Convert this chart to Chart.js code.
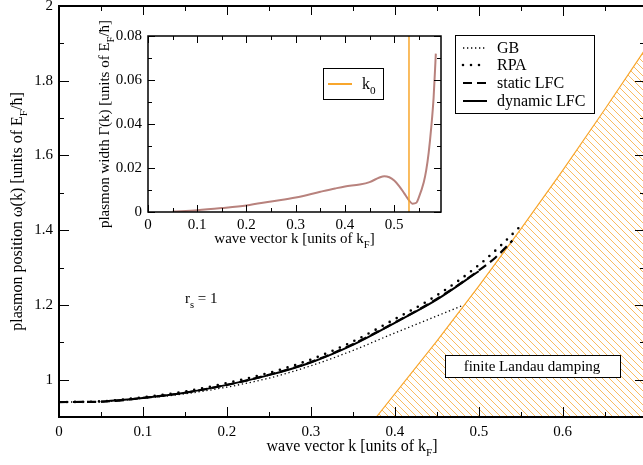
<!DOCTYPE html>
<html>
<head>
<meta charset="utf-8">
<script src="https://cdn.jsdelivr.net/npm/chart.js@4.4.0/dist/chart.umd.min.js"></script>
<style>
  html, body { margin: 0; padding: 0; background: #fff; overflow: hidden; }
  #wrap { position: relative; width: 643px; height: 465px; overflow: hidden; }
  #main { position: absolute; left: 0; top: 0; }
  #inset { position: absolute; left: 88px; top: 15px; background: #fff; }
</style>
</head>
<body>
<div id="wrap">
  <canvas id="main" width="660" height="465"></canvas>
  <canvas id="inset" width="362" height="240"></canvas>
</div>
<script>
// plasmon dispersion, main plot (k in units of k_F, omega in units of E_F/hbar)
const gbK = [0, 0.05, 0.1, 0.15, 0.2, 0.25, 0.3, 0.35, 0.4, 0.43, 0.479];
const gbW = [0.94, 0.941, 0.950, 0.962, 0.980, 1.004, 1.037, 1.078, 1.125, 1.152, 1.197];

const rpaK = [0, 0.05, 0.1, 0.15, 0.2, 0.25, 0.3, 0.35, 0.4, 0.438, 0.474, 0.505, 0.529, 0.551];
const rpaW = [0.94, 0.942, 0.953, 0.968, 0.991, 1.018, 1.054, 1.102, 1.162, 1.209, 1.262, 1.316, 1.365, 1.414];

const staticK = [0, 0.05, 0.1, 0.15, 0.2, 0.25, 0.3, 0.35, 0.4, 0.45, 0.5, 0.52, 0.54];
const staticW = [0.94, 0.941, 0.951, 0.965, 0.986, 1.013, 1.047, 1.095, 1.153, 1.216, 1.292, 1.327, 1.372];

const dynK = [0.05, 0.1, 0.15, 0.2, 0.25, 0.3, 0.35, 0.4, 0.45, 0.5];
const dynW = [0.941, 0.951, 0.965, 0.986, 1.012, 1.046, 1.093, 1.152, 1.214, 1.29];

// edge of the particle-hole continuum (finite Landau damping)
const landauK = [0.378, 0.45, 0.5, 0.55, 0.6, 0.65, 0.7, 0.75];
const landauW = [0.9, 1.103, 1.25, 1.403, 1.56, 1.723, 1.89, 2.06];

const mainXTicks = [0, 0.1, 0.2, 0.3, 0.4, 0.5, 0.6];
const mainYTicks = [1, 1.2, 1.4, 1.6, 1.8, 2];

// inset: plasmon width
const gammaK = [0.05, 0.1, 0.15, 0.2, 0.25, 0.3, 0.35, 0.38, 0.4, 0.43, 0.45, 0.47, 0.48, 0.49, 0.5,
                0.51, 0.52, 0.53, 0.537, 0.545, 0.55, 0.56, 0.565, 0.57, 0.575, 0.58, 0.5845];
const gammaW = [0.0002, 0.0008, 0.0018, 0.003, 0.0048, 0.0066, 0.0092, 0.0107, 0.0116, 0.0125, 0.0136, 0.0157, 0.0163, 0.0158, 0.0143,
                0.0118, 0.0086, 0.0053, 0.0038, 0.0042, 0.0066, 0.0135, 0.019, 0.027, 0.038, 0.052, 0.072];
const k0 = 0.53;
const insetXTicks = [0, 0.1, 0.2, 0.3, 0.4, 0.5];
const insetYTicks = [0, 0.02, 0.04, 0.06, 0.08];

const SERIF = '"Liberation Serif", "Times New Roman", serif';
const ORANGE = '#f8a62c';
const pts = (xs, ys) => xs.map((x, i) => ({ x: x, y: ys[i] }));

// text with subscripts: parts = [[text, isSub], ...], y = baseline
function richText(ctx, parts, x, y, size, align) {
  const f = s => s + 'px ' + SERIF;
  let w = 0;
  parts.forEach(([t, sub]) => { ctx.font = f(sub ? size * 0.7 : size); w += ctx.measureText(t).width; });
  let cx = align === 'center' ? x - w / 2 : (align === 'right' ? x - w : x);
  ctx.textAlign = 'left';
  ctx.textBaseline = 'alphabetic';
  ctx.fillStyle = '#000';
  parts.forEach(([t, sub]) => {
    ctx.font = f(sub ? size * 0.7 : size);
    ctx.fillText(t, cx, y + (sub ? size * 0.3 : 0));
    cx += ctx.measureText(t).width;
  });
}

// inward ticks on all four sides plus the frame
function drawFrame(chart, s) {
  const { ctx, chartArea: a, scales: { x, y } } = chart;
  ctx.save();
  ctx.strokeStyle = '#000';
  ctx.lineWidth = 1;
  ctx.beginPath();
  const vt = (v, len) => {
    const p = Math.round(x.getPixelForValue(v)) + 0.5;
    ctx.moveTo(p, a.bottom); ctx.lineTo(p, a.bottom - len);
    ctx.moveTo(p, a.top); ctx.lineTo(p, a.top + len);
  };
  const ht = (v, len) => {
    const p = Math.round(y.getPixelForValue(v)) + 0.5;
    ctx.moveTo(a.left, p); ctx.lineTo(a.left + len, p);
    ctx.moveTo(a.right, p); ctx.lineTo(a.right - len, p);
  };
  for (let v = x.min; v <= x.max + 1e-9; v += s.xMinor) vt(v, s.minor);
  for (let v = y.min; v <= y.max + 1e-9; v += s.yMinor) ht(v, s.minor);
  s.xMajor.forEach(v => vt(v, s.major));
  s.yMajor.forEach(v => ht(v, s.major));
  ctx.stroke();
  ctx.lineWidth = s.border;
  ctx.strokeRect(a.left, a.top, a.right - a.left, a.bottom - a.top);
  ctx.restore();
}

function fixBox(w, h) {
  return s => {
    if (w !== null) s.width = w;
    if (h !== null) s.height = h;
    s.paddingTop = 0; s.paddingBottom = 0; s.paddingLeft = 0; s.paddingRight = 0;
  };
}

// hatch pattern for the Landau damping region
const mainCanvas = document.getElementById('main');
const mctx = mainCanvas.getContext('2d');
const tile = document.createElement('canvas');
tile.width = 7; tile.height = 7;
const tg = tile.getContext('2d');
tg.strokeStyle = 'rgba(248,166,44,0.75)';
tg.lineWidth = 1;
tg.beginPath();
tg.moveTo(-1, -1); tg.lineTo(8, 8);
tg.moveTo(-1, 6); tg.lineTo(1, 8);
tg.moveTo(6, -1); tg.lineTo(8, 1);
tg.stroke();
const hatch = mctx.createPattern(tile, 'repeat');

const mainStyles = {
  gb: { borderColor: '#000', borderWidth: 1.3, borderDash: [1.3, 2.7] },
  rpa: { borderColor: '#000', borderWidth: 2.6, borderDash: [0, 8], borderCapStyle: 'round' },
  stat: { borderColor: '#000', borderWidth: 2.2, borderDash: [9, 5] },
  dyn: { borderColor: '#000', borderWidth: 2 }
};

const mainOverlay = {
  id: 'mainOverlay',
  afterDatasetsDraw(chart) {
    const ctx = chart.ctx;
    drawFrame(chart, { xMajor: mainXTicks, yMajor: mainYTicks, xMinor: 0.05, yMinor: 0.1, major: 10, minor: 5, border: 2 });
    ctx.save();
    // legend
    ctx.fillStyle = '#fff';
    ctx.fillRect(455, 35, 139, 78);
    ctx.strokeStyle = '#000';
    ctx.lineWidth = 1;
    ctx.strokeRect(455.5, 35.5, 139, 78);
    const rows = [['GB', mainStyles.gb, 48], ['RPA', mainStyles.rpa, 65], ['static LFC', mainStyles.stat, 83], ['dynamic LFC', mainStyles.dyn, 101]];
    rows.forEach(([label, st, ry]) => {
      ctx.save();
      ctx.strokeStyle = st.borderColor;
      ctx.lineWidth = st.borderWidth;
      ctx.setLineDash(st.borderDash || []);
      ctx.lineCap = st.borderCapStyle || 'butt';
      ctx.beginPath();
      ctx.moveTo(463, ry); ctx.lineTo(487, ry);
      ctx.stroke();
      ctx.restore();
      richText(ctx, [[label, false]], 497, ry + 5, 16, 'left');
    });
    // Landau damping label
    ctx.fillStyle = '#fff';
    ctx.fillRect(445, 355, 175, 22);
    ctx.strokeStyle = '#000';
    ctx.lineWidth = 1;
    ctx.strokeRect(445.5, 355.5, 175, 22);
    richText(ctx, [['finite Landau damping', false]], 532, 371, 15, 'center');
    // r_s = 1
    richText(ctx, [['r', false], ['s', true], [' = 1', false]], 185, 303, 15, 'left');
    // axis titles
    const a = chart.chartArea;
    richText(ctx, [['wave vector k [units of k', false], ['F', true], [']', false]], (a.left + a.right) / 2, 451, 16, 'center');
    ctx.translate(22, (a.top + a.bottom) / 2);
    ctx.rotate(-Math.PI / 2);
    richText(ctx, [['plasmon position \u03C9(k) [units of E', false], ['F', true], ['/\u0127]', false]], 0, 0, 16, 'center');
    ctx.restore();
  }
};

new Chart(mainCanvas, {
  type: 'line',
  data: {
    datasets: [
      Object.assign({ label: 'dynamic LFC', data: pts(dynK, dynW) }, mainStyles.dyn),
      Object.assign({ label: 'static LFC', data: pts(staticK, staticW) }, mainStyles.stat),
      Object.assign({ label: 'RPA', data: pts(rpaK, rpaW) }, mainStyles.rpa),
      Object.assign({ label: 'GB', data: pts(gbK, gbW) }, mainStyles.gb),
      {
        label: 'finite Landau damping',
        data: pts(landauK, landauW),
        borderColor: ORANGE,
        borderWidth: 1.2,
        backgroundColor: hatch,
        fill: 'start',
        cubicInterpolationMode: 'default',
        tension: 0
      }
    ]
  },
  options: {
    responsive: false,
    animation: false,
    layout: { padding: { top: 6, right: 15, left: 0, bottom: 0 } },
    elements: { point: { radius: 0 }, line: { cubicInterpolationMode: 'monotone' } },
    plugins: { legend: { display: false }, tooltip: { enabled: false } },
    scales: {
      x: {
        type: 'linear', min: 0, max: 0.698,
        grid: { display: false, drawTicks: false },
        border: { display: false },
        ticks: { padding: 6, color: '#000', font: { family: SERIF, size: 15 }, maxRotation: 0,
                 callback: v => v === 0 ? '0' : v.toFixed(1) },
        afterBuildTicks: s => { s.ticks = mainXTicks.map(v => ({ value: v })); },
        afterFit: fixBox(null, 48)
      },
      y: {
        type: 'linear', min: 0.9, max: 2,
        grid: { display: false, drawTicks: false },
        border: { display: false },
        ticks: { padding: 6, color: '#000', font: { family: SERIF, size: 15 },
                 callback: v => (v === 1 || v === 2) ? String(v) : v.toFixed(1) },
        afterBuildTicks: s => { s.ticks = mainYTicks.map(v => ({ value: v })); },
        afterFit: fixBox(59, null)
      }
    }
  },
  plugins: [mainOverlay]
});

const insetOverlay = {
  id: 'insetOverlay',
  afterDatasetsDraw(chart) {
    const ctx = chart.ctx;
    drawFrame(chart, { xMajor: insetXTicks, yMajor: insetYTicks, xMinor: 0.05, yMinor: 0.01, major: 7, minor: 4, border: 1.5 });
    ctx.save();
    // legend
    ctx.fillStyle = '#fff';
    ctx.fillRect(235, 53, 60, 31);
    ctx.strokeStyle = '#000';
    ctx.lineWidth = 1;
    ctx.strokeRect(235.5, 53.5, 60, 31);
    ctx.strokeStyle = ORANGE;
    ctx.lineWidth = 2;
    ctx.beginPath();
    ctx.moveTo(240, 69); ctx.lineTo(264, 69);
    ctx.stroke();
    richText(ctx, [['k', false], ['0', true]], 274, 74, 16, 'left');
    // axis titles
    const a = chart.chartArea;
    richText(ctx, [['wave vector k [units of k', false], ['F', true], [']', false]], (a.left + a.right) / 2, 228, 15, 'center');
    ctx.translate(21, (a.top + a.bottom) / 2);
    ctx.rotate(-Math.PI / 2);
    richText(ctx, [['plasmon width \u0393(k) [units of E', false], ['F', true], ['/\u0127]', false]], 0, 0, 15, 'center');
    ctx.restore();
  }
};

new Chart(document.getElementById('inset'), {
  type: 'line',
  data: {
    datasets: [
      { label: 'k0', data: [{ x: k0, y: 0 }, { x: k0, y: 0.08 }], borderColor: ORANGE, borderWidth: 1.5 },
      { label: 'Gamma', data: pts(gammaK, gammaW), borderColor: '#b8827d', borderWidth: 2 }
    ]
  },
  options: {
    responsive: false,
    animation: false,
    layout: { padding: { top: 21, right: 9, left: 0, bottom: 0 } },
    elements: { point: { radius: 0 }, line: { cubicInterpolationMode: 'monotone' } },
    plugins: { legend: { display: false }, tooltip: { enabled: false } },
    scales: {
      x: {
        type: 'linear', min: 0, max: 0.595,
        grid: { display: false, drawTicks: false },
        border: { display: false },
        ticks: { padding: 4, color: '#000', font: { family: SERIF, size: 15 }, maxRotation: 0,
                 callback: v => v === 0 ? '0' : v.toFixed(1) },
        afterBuildTicks: s => { s.ticks = insetXTicks.map(v => ({ value: v })); },
        afterFit: fixBox(null, 43)
      },
      y: {
        type: 'linear', min: 0, max: 0.08,
        grid: { display: false, drawTicks: false },
        border: { display: false },
        ticks: { padding: 6, color: '#000', font: { family: SERIF, size: 15 },
                 callback: v => v === 0 ? '0' : v.toFixed(2) },
        afterBuildTicks: s => { s.ticks = insetYTicks.map(v => ({ value: v })); },
        afterFit: fixBox(60, null)
      }
    }
  },
  plugins: [insetOverlay]
});
</script>
</body>
</html>
